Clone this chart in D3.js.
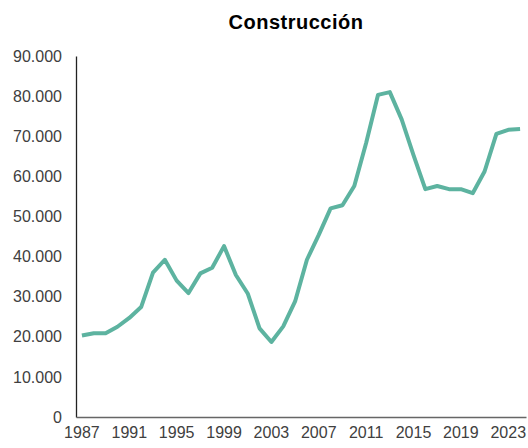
<!DOCTYPE html>
<html>
<head>
<meta charset="utf-8">
<script src="https://cdn.jsdelivr.net/npm/d3@7"></script>
<style>
  body { margin: 0; background: #fff; }
  text { font-family: "Liberation Sans", Arial, sans-serif; }
</style>
</head>
<body>
<div id="chart"></div>
<script>
// Data
var years = d3.range(1987, 2025);
var values = [
  20300, 20900, 20900, 22500, 24700, 27400, 36000, 39200, 34000, 30900,
  35800, 37200, 42600, 35400, 30800, 22100, 18700, 22600, 28800, 39200,
  45400, 52000, 52800, 57600, 68300, 80300, 81000, 74200, 65300, 56800,
  57600, 56800, 56800, 55800, 61200, 70600, 71600, 71800
];
var yTicks = [0, 10000, 20000, 30000, 40000, 50000, 60000, 70000, 80000, 90000];
var xTickYears = [1987, 1991, 1995, 1999, 2003, 2007, 2011, 2015, 2019, 2023];

var svgWidth = 528;
var svgHeight = 448;

var svg = d3.select("#chart")
  .append("svg")
  .attr("width", svgWidth)
  .attr("height", svgHeight);

// plot area edges
var plotLeft = 76, plotRight = 526, plotTop = 56, plotBottom = 417;

var x = d3.scaleBand()
  .domain(years)
  .range([plotLeft, plotRight]);

var y = d3.scaleLinear()
  .domain([0, 90000])
  .range([plotBottom, plotTop]);

var fmt = function(v) {
  return v === 0 ? "0" : d3.format(",")(v).replace(/,/g, ".");
};

// title
svg.append("text")
  .attr("x", 296)
  .attr("y", 29)
  .attr("text-anchor", "middle")
  .style("font-size", "20px")
  .style("letter-spacing", "0.5px")
  .style("font-weight", "bold")
  .style("fill", "#000")
  .text("Construcción");

// y axis
var leftAxis = d3.axisLeft(y).tickValues(yTicks).tickSize(0).tickPadding(14).tickFormat(fmt);
var gy = svg.append("g")
  .attr("transform", `translate(${plotLeft}, 0)`)
  .call(leftAxis);
gy.select(".domain").attr("stroke", "#222").attr("stroke-width", 1.3);
gy.selectAll("text").style("font-size", "16px").style("fill", "#404040");

// x axis
var bottomAxis = d3.axisBottom(x).tickValues(xTickYears).tickSize(0).tickPadding(10);
var gx = svg.append("g")
  .attr("transform", `translate(0, ${plotBottom})`)
  .call(bottomAxis);
gx.select(".domain").attr("stroke", "#666").attr("stroke-width", 1.3);
gx.selectAll("text").style("font-size", "16px").style("fill", "#404040");

// line
var line = d3.line()
  .x(function(d, i) { return x(years[i]) + x.bandwidth() / 2; })
  .y(function(d) { return y(d); });

svg.append("path")
  .datum(values)
  .attr("fill", "none")
  .attr("stroke", "#5db3a0")
  .attr("stroke-width", 4)
  .attr("stroke-linejoin", "round")
  .attr("d", line);
</script>
</body>
</html>
